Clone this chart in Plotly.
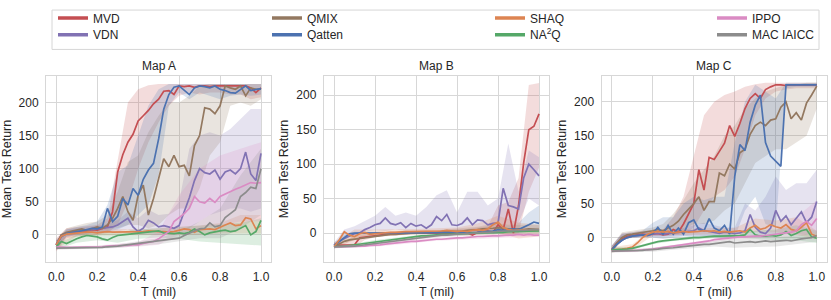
import plotly.graph_objects as go

# ---------------- x grids ----------------
T = [0.0, 0.025, 0.05, 0.075, 0.1, 0.125, 0.15, 0.175, 0.2, 0.225, 0.25, 0.275, 0.3, 0.325, 0.35,
     0.375, 0.4, 0.425, 0.45, 0.475, 0.5, 0.525, 0.55, 0.575, 0.6, 0.625, 0.65, 0.675, 0.7, 0.725,
     0.75, 0.775, 0.8, 0.825, 0.85, 0.875, 0.9, 0.925, 0.95, 0.975, 1.0]
T_BAND = [0.0, 0.05, 0.1, 0.15, 0.2, 0.25, 0.3, 0.35, 0.4, 0.45, 0.5, 0.55, 0.6, 0.65, 0.7, 0.75,
          0.8, 0.85, 0.9, 0.95, 1.0]
T_BAND_S = [0.0, 0.1, 0.2, 0.3, 0.4, 0.5, 0.6, 0.7, 0.8, 0.9, 1.0]

SERIES = ["MVD", "VDN", "QMIX", "Qatten", "SHAQ", "NA2Q", "IPPO", "MAC IAICC"]
LABELS = ["MVD", "VDN", "QMIX", "Qatten", "SHAQ", "NA<sup>2</sup>Q", "IPPO", "MAC IAICC"]
MAP_TITLES = ["Map A", "Map B", "Map C"]
X_TICKS = [0.0, 0.2, 0.4, 0.6, 0.8, 1.0]
X_TICK_TEXT = ["0.0", "0.2", "0.4", "0.6", "0.8", "1.0"]
Y_TICKS = [0, 50, 100, 150, 200]

# ---------------- Map A ----------------
mvd_a = [-15,0,2,3,5,4,6,8,7,10,12,35,95,121,140,152,172,180,188,198,205,217,218,212,225,224,225,223,225,225,224,225,225,224,225,225,224,225,222,215,222]
vdn_a = [-15,-3,2,4,5,6,7,8,8,10,10,12,15,20,25,12,5,10,22,18,12,14,12,10,14,35,56,82,100,94,92,98,84,95,98,92,100,125,92,82,123]
qmix_a = [-15,0,4,6,8,9,7,10,12,10,15,25,40,58,35,22,60,75,30,55,84,115,103,120,103,105,89,135,150,192,190,183,195,225,222,220,225,210,222,220,220]
qatten_a = [-15,-2,2,4,5,6,8,10,9,12,40,20,28,55,45,70,60,84,98,108,145,190,212,223,225,218,212,222,225,224,222,225,220,218,215,214,220,225,218,220,221]
shaq_a = [-15,-2,1,2,3,3,4,4,3,4,5,4,4,5,5,4,5,5,6,5,5,5,4,5,7,9,8,4,8,9,9,8,12,15,18,14,15,26,24,9,14]
na2q_a = [-18,-10,-13,-9,-6,-3,-1,-2,-3,-6,-8,-4,-1,0,1,2,3,4,4,5,6,3,2,2,3,2,4,9,5,0,3,5,6,7,5,6,10,14,0,5,22]
ippo_a = [-18,-19,-19,-19,-19,-19,-18,-18,-18,-18,-17,-17,-17,-16,-16,-15,-15,-13,-12,-10,-6,0,5,20,26,32,40,58,50,48,55,49,58,62,65,69,72,75,79,78,79]
mac_a = [-20,-20,-20,-20,-20,-20,-20,-20,-19,-19,-18,-18,-17,-16,-15,-14,-13,-12,-12,-11,-10,-9,-8,-6,-5,-1,3,6,9,10,18,12,14,26,32,38,58,64,72,70,100]

mvd_a_lo = [-25,-5,-3,0,0,3,15,50,100,140,170,195,210,215,212,215,215,212,212,205,208]
mvd_a_hi = [-5,10,12,14,15,25,110,200,220,226,228,228,228,228,228,228,228,228,228,228,228]
vdn_a_lo = [-22,-3,0,2,3,4,5,8,0,0,0,2,5,10,20,30,35,40,40,35,40]
vdn_a_hi = [-8,8,10,12,14,16,22,35,25,38,30,32,50,130,150,155,150,160,175,190,190]
qmix_a_lo = [-22,-2,2,4,5,8,10,15,15,10,15,30,40,40,70,120,140,195,200,195,205]
qmix_a_hi = [-8,10,14,18,20,30,65,110,120,155,180,200,200,210,225,228,228,228,228,228,228]
qatten_a_lo = [-22,-3,0,2,4,5,8,15,30,45,90,195,215,205,215,210,205,210,212,210,212]
qatten_a_hi = [-8,8,12,15,20,45,95,105,150,195,220,228,228,228,228,228,228,228,228,228,228]
shaq_a_lo = [-22,-2,-1,0,0,0,0,0,2,2,2]
shaq_a_hi = [-8,6,8,8,9,10,12,14,18,30,30]
na2q_a_lo = [-22,-12,-8,-12,-6,-4,-6,-10,-12,-14,-16]
na2q_a_hi = [-14,0,5,5,8,10,12,14,15,18,25]
ippo_a_lo = [-22,-21,-20,-19,-18,-15,0,10,15,20,20]
ippo_a_hi = [-16,-17,-16,-14,-11,5,60,100,120,130,140]
mac_a_lo = [-22,-22,-21,-20,-17,-14,-10,-5,-5,10,30]
mac_a_hi = [-18,-18,-17,-14,-9,-5,5,20,40,90,130]

# ---------------- Map B ----------------
mvd_b = [-18,-18,-18,-18,-17,-7,-6,-4,-3,-2,-2,-1,0,0,0,0,1,0,1,1,0,1,0,-1,1,2,0,-3,1,2,3,1,12,5,35,0,40,102,150,155,173]
vdn_b = [-18,-12,-8,-4,-1,0,5,8,12,14,22,14,12,15,8,14,10,12,7,12,24,18,27,12,11,14,22,12,19,18,12,14,15,65,40,38,35,80,100,92,83]
qmix_b = [-20,-16,-12,-10,-9,-7,-6,-5,-4,-3,-3,-2,-2,-1,-1,0,0,0,1,1,1,2,2,2,3,3,4,4,5,6,6,7,8,7,6,5,6,5,6,5,5]
qatten_b = [-18,-12,-6,-1,0,0,0,0,0,0,0,0,0,0,0,0,0,0,0,0,0,0,1,1,1,1,1,1,1,2,2,3,5,4,5,6,5,8,12,16,14]
shaq_b = [-20,-10,2,-3,-5,-1,1,-2,-1,0,1,1,1,2,2,2,2,2,2,2,3,3,4,3,2,3,2,4,5,4,6,12,16,8,5,4,5,5,4,5,5]
na2q_b = [-20,-20,-19,-18,-17,-16,-14,-13,-12,-11,-10,-9,-8,-7,-6,-6,-5,-4,-4,-3,-3,-2,-2,-2,-1,-1,-1,0,0,0,1,1,1,1,2,2,2,2,3,3,3]
ippo_b = [-20,-20,-20,-20,-20,-19,-19,-18,-18,-17,-16,-15,-14,-13,-13,-12,-12,-11,-10,-10,-9,-9,-8,-8,-7,-7,-6,-6,-5,-5,-4,-4,-4,-3,-3,-3,-2,-3,-2,-3,-3]
mac_b = [-20,-20,-20,-19,-19,-18,-17,-16,-15,-14,-13,-12,-11,-10,-9,-8,-7,-6,-5,-5,-4,-3,-3,-2,-2,-1,-1,0,0,1,1,2,2,3,3,4,4,4,5,5,5]

mvd_b_lo = [-22,-20,-20,-10,-6,-4,-3,-2,-1,-2,-2,-2,-3,-4,-3,-4,-2,-5,0,60,95]
mvd_b_hi = [-14,-15,-2,2,2,2,2,3,3,3,4,4,5,6,8,10,40,45,80,215,218]
vdn_b_lo = [-22,-8,-2,2,4,3,5,3,2,3,4,3,4,5,4,5,5,10,15,50,40]
vdn_b_hi = [-14,5,10,18,25,38,25,30,25,38,55,62,30,60,60,40,50,130,60,120,110]
qmix_b_lo = [-22,-15,-9,-6,-5,-4,-3,-2,-2,-2,-1,-1,0,0,1,1,2,0,0,0,0]
qmix_b_hi = [-18,-9,-4,-2,0,1,2,3,3,4,4,5,6,7,9,12,14,12,12,12,12]
qatten_b_lo = [-22,-10,-2,-1,-1,-1,-1,-1,-1,-1,-1,-1,-1,-1,-1,-1,-1,0,0,2,2]
qatten_b_hi = [-14,-2,2,1,1,1,1,1,1,1,1,1,2,2,3,4,8,10,15,30,40]
shaq_b_lo = [-22,-10,-5,-3,-2,-1,-2,0,0,-8,-5]
shaq_b_hi = [-14,5,5,5,6,7,8,14,25,15,12]
na2q_b_lo = [-22,-19,-14,-10,-7,-5,-3,-2,-1,0,0]
na2q_b_hi = [-18,-15,-10,-6,-3,-1,1,2,3,4,5]
ippo_b_lo = [-22,-21,-20,-17,-14,-11,-9,-8,-7,-6,-5]
ippo_b_hi = [-18,-19,-16,-11,-9,-7,-5,-3,-1,0,0]
mac_b_lo = [-22,-21,-17,-13,-9,-6,-4,-2,0,2,2]
mac_b_hi = [-18,-17,-13,-9,-5,-2,0,2,4,6,8]

# ---------------- Map C ----------------
mvd_c = [-18,-8,-2,2,3,4,5,4,5,6,4,5,12,8,20,36,50,100,70,118,115,127,139,165,149,168,190,205,212,205,218,222,225,225,224,225,225,224,225,225,225]
vdn_c = [-18,-10,-4,0,2,3,4,4,5,6,5,6,7,8,8,9,10,14,10,9,8,6,8,7,6,7,10,34,15,8,6,14,40,24,32,19,28,38,22,30,53]
qmix_c = [-18,-8,0,4,5,6,7,8,10,12,10,14,18,24,34,42,50,60,40,53,53,95,91,108,101,125,130,152,165,170,165,173,175,192,200,175,184,173,198,210,223]
qatten_c = [-18,-10,-4,0,2,3,4,3,6,15,5,18,5,14,5,22,26,12,10,28,14,10,18,5,90,137,128,170,195,210,140,120,112,105,225,225,225,225,224,225,225]
shaq_c = [-18,-18,-17,-16,-14,-8,0,5,8,9,8,9,7,8,9,8,8,9,10,9,10,8,9,8,9,10,8,14,18,12,14,19,16,14,19,12,10,15,22,5,2]
na2q_c = [-18,-18,-18,-17,-16,-14,-11,-9,-8,-6,-5,-4,-3,-2,-2,-1,0,0,1,2,2,2,2,2,2,3,4,12,4,2,2,3,2,4,9,3,6,10,12,1,-1]
ippo_c = [-20,-20,-20,-19,-19,-19,-18,-18,-17,-16,-15,-14,-13,-12,-11,-10,-8,-7,-6,-5,-3,-2,-1,0,0,1,1,2,2,2,3,4,5,5,6,8,10,19,24,18,28]
mac_c = [-20,-20,-20,-20,-20,-19,-19,-18,-18,-17,-16,-16,-15,-14,-13,-12,-12,-11,-10,-10,-9,-8,-8,-6,-8,-7,-7,-6,-7,-6,-5,-6,-5,-4,-4,-5,-3,-2,-1,0,3]

mvd_c_lo = [-22,-3,0,1,2,2,3,5,15,40,60,70,90,130,180,205,215,218,220,220,220]
mvd_c_hi = [-12,6,8,10,10,12,30,60,120,180,200,210,215,222,226,228,228,228,228,228,228]
vdn_c_lo = [-22,-3,0,1,2,2,2,2,3,3,2,1,0,2,0,0,2,5,5,5,8]
vdn_c_hi = [-12,5,6,8,10,10,12,14,18,22,18,15,15,50,40,60,90,70,80,80,100]
qmix_c_lo = [-22,-3,0,2,4,5,8,12,20,20,25,40,50,80,110,120,130,130,140,150,190]
qmix_c_hi = [-12,8,10,12,15,20,35,55,80,100,120,150,165,190,205,215,220,225,225,228,228]
qatten_c_lo = [-22,-3,0,1,0,-2,0,2,0,2,0,0,0,40,60,20,15,220,222,222,222]
qatten_c_hi = [-12,6,8,10,22,30,30,50,60,55,60,60,140,200,225,215,205,228,228,228,228]
shaq_c_lo = [-22,-18,3,4,4,5,4,8,8,4,-2]
shaq_c_hi = [-14,-10,12,12,13,14,14,28,25,30,10]
na2q_c_lo = [-22,-18,-10,-5,-3,-1,0,-2,-4,-4,-8]
na2q_c_hi = [-14,-14,-6,-1,2,4,5,10,12,18,10]
ippo_c_lo = [-22,-21,-19,-16,-11,-6,-2,-1,0,2,5]
ippo_c_hi = [-18,-17,-15,-11,-6,-1,3,5,10,30,55]
mac_c_lo = [-22,-22,-21,-18,-15,-13,-15,-14,-13,-10,-6]
mac_c_hi = [-18,-18,-15,-11,-9,-5,-1,-1,0,3,8]

# ---------------- assemble ----------------
COLORS = ["#C44E52", "#8172B3", "#937860", "#4C72B0", "#DD8452", "#55A868", "#DA8BC3", "#8C8C8C"]

LINES = [
    [mvd_a, vdn_a, qmix_a, qatten_a, shaq_a, na2q_a, ippo_a, mac_a],
    [mvd_b, vdn_b, qmix_b, qatten_b, shaq_b, na2q_b, ippo_b, mac_b],
    [mvd_c, vdn_c, qmix_c, qatten_c, shaq_c, na2q_c, ippo_c, mac_c],
]
BANDS = [
    [(T_BAND, mvd_a_lo, mvd_a_hi), (T_BAND, vdn_a_lo, vdn_a_hi), (T_BAND, qmix_a_lo, qmix_a_hi),
     (T_BAND, qatten_a_lo, qatten_a_hi), (T_BAND_S, shaq_a_lo, shaq_a_hi), (T_BAND_S, na2q_a_lo, na2q_a_hi),
     (T_BAND_S, ippo_a_lo, ippo_a_hi), (T_BAND_S, mac_a_lo, mac_a_hi)],
    [(T_BAND, mvd_b_lo, mvd_b_hi), (T_BAND, vdn_b_lo, vdn_b_hi), (T_BAND, qmix_b_lo, qmix_b_hi),
     (T_BAND, qatten_b_lo, qatten_b_hi), (T_BAND_S, shaq_b_lo, shaq_b_hi), (T_BAND_S, na2q_b_lo, na2q_b_hi),
     (T_BAND_S, ippo_b_lo, ippo_b_hi), (T_BAND_S, mac_b_lo, mac_b_hi)],
    [(T_BAND, mvd_c_lo, mvd_c_hi), (T_BAND, vdn_c_lo, vdn_c_hi), (T_BAND, qmix_c_lo, qmix_c_hi),
     (T_BAND, qatten_c_lo, qatten_c_hi), (T_BAND_S, shaq_c_lo, shaq_c_hi), (T_BAND_S, na2q_c_lo, na2q_c_hi),
     (T_BAND_S, ippo_c_lo, ippo_c_hi), (T_BAND_S, mac_c_lo, mac_c_hi)],
]
Y_RANGES = [[-41, 240], [-42, 228], [-36, 238]]


def rgba(hex_color, a):
    h = hex_color.lstrip("#")
    return "rgba(%d,%d,%d,%s)" % (int(h[0:2], 16), int(h[2:4], 16), int(h[4:6], 16), a)


FONT = "Liberation Sans, Arial, sans-serif"
TXT = "#262626"
GRID = "#d7d7d7"

W, H = 831, 300
ML, MR, MT, MB = 46, 4, 73, 38
PW, PH = W - ML - MR, H - MT - MB


def px_x(p):
    return min(1.0, max(0.0, (p - ML) / PW))


def px_y(p):
    return 1 + (MT - p) / PH


def px_xf(p):
    return (p - ML) / PW


DOMAINS = [[px_x(46), px_x(271.25)], [px_x(323.8), px_x(549.3)], [px_x(601.5), px_x(827)]]

fig = go.Figure()

for m in range(3):
    xa = "x" if m == 0 else "x%d" % (m + 1)
    ya = "y" if m == 0 else "y%d" % (m + 1)
    for s in range(len(SERIES)):
        tx, lo, hi = BANDS[m][s]
        fig.add_trace(go.Scatter(
            x=list(tx) + list(tx)[::-1], y=list(hi) + list(lo)[::-1],
            fill="toself", fillcolor=rgba(COLORS[s], 0.2), line=dict(width=0),
            mode="lines", hoverinfo="skip", showlegend=False, xaxis=xa, yaxis=ya))
    for s in range(len(SERIES)):
        fig.add_trace(go.Scatter(
            x=T, y=LINES[m][s], mode="lines", name=SERIES[s],
            line=dict(color=COLORS[s], width=1.7), showlegend=False, xaxis=xa, yaxis=ya))

# legend entries: one legend per entry, 4 columns x 2 rows
LEG_COL_X = [53, 267, 490, 712]
LEG_ROW_MID = [14, 31]
LEG_POS = [(0, 0), (0, 1), (1, 0), (1, 1), (2, 0), (2, 1), (3, 0), (3, 1)]  # (column, row) per series

layout = dict(
    width=W, height=H,
    margin=dict(l=ML, r=MR, t=MT, b=MB, pad=0),
    paper_bgcolor="white", plot_bgcolor="white",
    font=dict(family=FONT, size=12, color=TXT),
    showlegend=True,
)

for s in range(len(SERIES)):
    lname = "legend" if s == 0 else "legend%d" % (s + 1)
    col, row = LEG_POS[s]
    fig.add_trace(go.Scatter(
        x=[None], y=[None], mode="lines", name=LABELS[s],
        line=dict(color=COLORS[s], width=3.5), showlegend=True, legend=lname))
    layout[lname] = dict(
        x=px_xf(LEG_COL_X[col]), y=px_y(LEG_ROW_MID[row]), xanchor="left", yanchor="middle",
        orientation="v", bgcolor="rgba(0,0,0,0)", borderwidth=0,
        font=dict(family=FONT, size=12, color=TXT),
    )

for m in range(3):
    xk = "xaxis" if m == 0 else "xaxis%d" % (m + 1)
    yk = "yaxis" if m == 0 else "yaxis%d" % (m + 1)
    ya = "y" if m == 0 else "y%d" % (m + 1)
    xa = "x" if m == 0 else "x%d" % (m + 1)
    layout[xk] = dict(
        domain=DOMAINS[m], range=[-0.05, 1.05], anchor=ya,
        tickvals=X_TICKS, ticktext=X_TICK_TEXT,
        showgrid=True, gridcolor=GRID, gridwidth=1, zeroline=False,
        showline=True, mirror=True, linecolor=GRID, linewidth=1,
        ticks="outside", ticklen=4, tickcolor="rgba(0,0,0,0)",
        tickfont=dict(size=12, color=TXT),
        title=dict(text="T (mil)", font=dict(size=12.5, color=TXT), standoff=3),
    )
    layout[yk] = dict(
        domain=[0, 1], range=Y_RANGES[m], anchor=xa,
        tickvals=Y_TICKS,
        showgrid=True, gridcolor=GRID, gridwidth=1, zeroline=False,
        showline=True, mirror=True, linecolor=GRID, linewidth=1,
        ticks="outside", ticklen=4, tickcolor="rgba(0,0,0,0)",
        tickfont=dict(size=12, color=TXT),
        title=dict(text="Mean Test Return", font=dict(size=12.5, color=TXT), standoff=4),
    )

fig.update_layout(**layout)

for m in range(3):
    fig.add_annotation(
        text=MAP_TITLES[m], xref="paper", yref="paper",
        x=(DOMAINS[m][0] + DOMAINS[m][1]) / 2, y=1, xanchor="center", yanchor="bottom",
        yshift=1, showarrow=False, font=dict(family=FONT, size=12, color=TXT))

# legend frame
fig.add_shape(type="rect", xref="paper", yref="paper",
              x0=px_xf(52), x1=px_xf(819), y0=px_y(46), y1=px_y(6),
              line=dict(color="#d6d6d6", width=1), fillcolor="rgba(0,0,0,0)", layer="below")

fig.write_html("out.html", config={"displayModeBar": False},
               post_script="document.body.style.margin='0px';")
